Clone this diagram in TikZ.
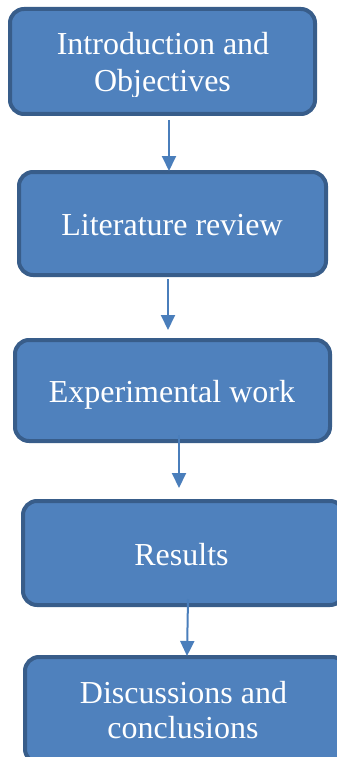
\documentclass[tikz,border=0pt]{standalone}
\usepackage{fontspec}
\setmainfont{Liberation Serif}
\usetikzlibrary{arrows.meta}
\definecolor{boxfill}{HTML}{4F81BD}
\definecolor{boxline}{HTML}{385D8A}
\definecolor{arrowcol}{HTML}{4A7EBB}
\begin{document}
\begin{tikzpicture}[x=1pt,y=1pt,
  stagebox/.style={draw=boxline,fill=boxfill,line width=4pt,rounded corners=14pt,inner sep=0pt},
  stagetext/.style={text=white,font=\fontsize{32}{37}\selectfont,anchor=base,inner sep=0pt},
  flow/.style={draw=arrowcol,line width=2pt,-{Triangle[width=14pt,length=15pt]}}]
\useasboundingbox (0,0) rectangle (337,-757);
\clip (0,0) rectangle (337,-757);
% boxes
\node[stagebox,minimum width=305pt,minimum height=105pt] (b1) at (162.5,-61.5) {};
\node[stagebox,minimum width=307pt,minimum height=103pt] (b2) at (172.5,-223.5) {};
\node[stagebox,minimum width=315pt,minimum height=101pt] (b3) at (172.5,-390.5) {};
\node[stagebox,minimum width=321pt,minimum height=104pt] (b4) at (183.5,-553) {};
\node[stagebox,minimum width=321pt,minimum height=106pt] (b5) at (185.5,-710) {};
% texts
\begin{scope}
\clip (0,0) rectangle (337,-97);
\node[stagetext] (t1a) at (163,-55) {Introduction and};
\node[stagetext] (t1b) at (162.5,-92) {Objectives};
\end{scope}
\node[stagetext] (t2) at (172,-235) {Literature review};
\node[stagetext] (t3) at (172,-402) {Experimental work};
\node[stagetext] (t4) at (181.5,-565) {Results};
\node[stagetext] (t5a) at (183.5,-703) {Discussions and};
\node[stagetext] (t5b) at (183,-738) {conclusions};
% connectors
\draw[flow] ([xshift=6.5pt,yshift=-4pt]b1.south) -- ([xshift=-3.5pt,yshift=-1pt]b2.north);
\draw[flow] ([xshift=-4.5pt,yshift=-2pt]b2.south) -- ([xshift=-4.5pt,yshift=8pt]b3.north);
\draw[flow] ([xshift=6.5pt,yshift=8pt]b3.south) -- ([xshift=-4.5pt,yshift=11pt]b4.north);
\draw[flow] ([xshift=4.5pt,yshift=8pt]b4.south) -- ([xshift=1.5pt,yshift=-1pt]b5.north);
\end{tikzpicture}
\end{document}
